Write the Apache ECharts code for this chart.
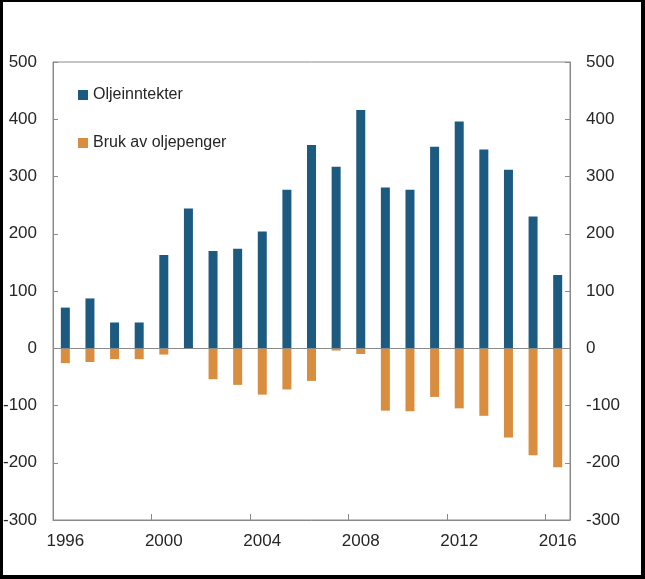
<!DOCTYPE html>
<html>
<head>
<meta charset="utf-8">
<script src="https://cdn.jsdelivr.net/npm/echarts@6/dist/echarts.min.js"></script>
<style>
html,body{margin:0;padding:0;background:#fff;}
#wrap{position:relative;width:645px;height:579px;}
#chart{position:absolute;left:0;top:0;width:645px;height:579px;}
#frame{position:absolute;left:0;top:0;width:645px;height:579px;box-sizing:border-box;border-style:solid;border-color:#000;border-width:2px 4px 4px 3px;pointer-events:none;}
</style>
</head>
<body>
<div id="wrap"><div id="chart"></div><div id="frame"></div></div>
<script>
var years = ['1996','1997','1998','1999','2000','2001','2002','2003','2004','2005','2006','2007','2008','2009','2010','2011','2012','2013','2014','2015','2016'];
var oljeinntekter = [71, 87, 45, 45, 163, 244, 170, 174, 204, 277, 355, 317, 416, 281, 277, 352, 396, 347, 312, 230, 128];
var brukAvOljepenger = [-26, -24, -19, -19, -11, -1, -54, -64, -81, -72, -57, -4, -10, -109, -110, -85, -105, -118, -156, -187, -208];
var yTicks = [-300, -200, -100, 0, 100, 200, 300, 400, 500];

var chart = echarts.init(document.getElementById('chart'), null, {renderer:'canvas'});
var FONT = '"Liberation Sans", Arial, sans-serif';
var axisCol = '#8a8a8a';
var textCol = '#262626';
function yAxisDef(pos){
  return {
    type:'value', position:pos, min:yTicks[0], max:yTicks[yTicks.length-1], interval:100,
    axisLine:{show:true, lineStyle:{color:axisCol, width:1}},
    axisTick:{show:true, inside:true, length:5, lineStyle:{color:axisCol}},
    splitLine:{show:false},
    axisLabel:{color:textCol, fontFamily:FONT, fontSize:17, margin:16}
  };
}
chart.setOption({
  backgroundColor:'#fff',
  animation:false,
  grid:{left:53, right:75, top:62, bottom:59, show:true, borderColor:axisCol, borderWidth:1, backgroundColor:'transparent'},
  legend:{
    orient:'vertical', left:78, top:87, padding:0, itemWidth:10, itemHeight:10, itemGap:32,
    icon:'rect',
    textStyle:{color:textCol, fontFamily:FONT, fontSize:16},
    data:['Oljeinntekter','Bruk av oljepenger']
  },
  xAxis:{
    type:'category', data:years, boundaryGap:true,
    axisLine:{onZero:false, lineStyle:{color:axisCol}},
    axisTick:{show:true, inside:true, length:6, interval:3, alignWithLabel:false, lineStyle:{color:axisCol}},
    axisLabel:{interval:3, color:textCol, fontFamily:FONT, fontSize:17, margin:13}
  },
  yAxis:[yAxisDef('left'), yAxisDef('right')],
  series:[
    {name:'Oljeinntekter', type:'bar', stack:'s', data:oljeinntekter, barWidth:9,
     itemStyle:{color:'#1d5a80'},
     markLine:{silent:true, symbol:'none', label:{show:false}, lineStyle:{color:axisCol, type:'solid', width:1}, data:[{yAxis:0}]}},
    {name:'Bruk av oljepenger', type:'bar', stack:'s', data:brukAvOljepenger, barWidth:9,
     itemStyle:{color:'#d98d3f'}}
  ]
});
</script>
</body>
</html>
